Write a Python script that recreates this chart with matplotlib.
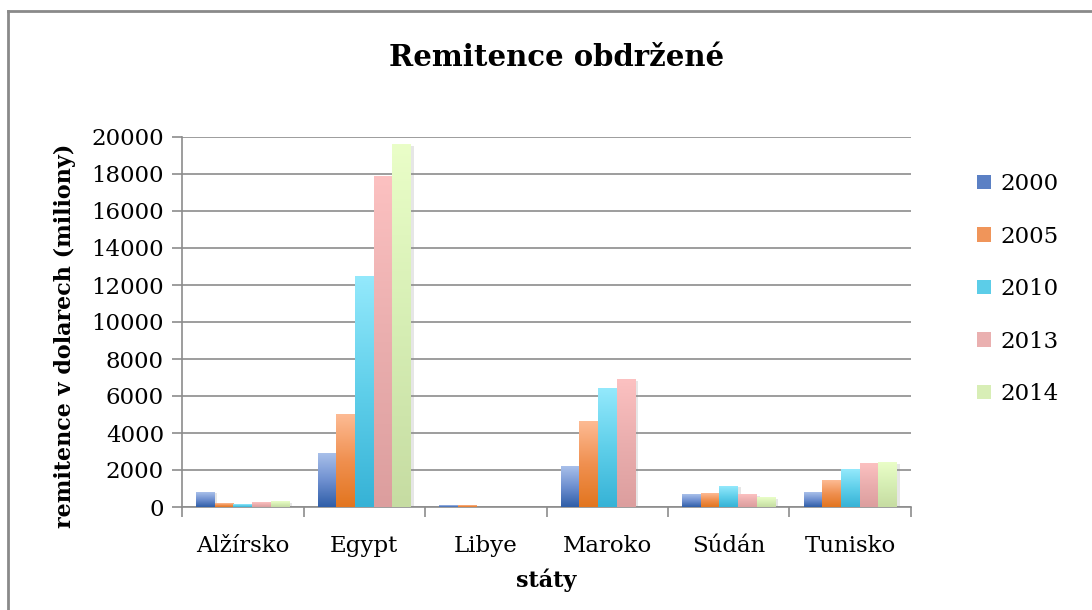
#!/usr/bin/env python3
"""Remitence obdržené – grouped bar chart with Excel-like gradient bars."""

import numpy as np
import matplotlib
matplotlib.use("Agg")
import matplotlib.pyplot as plt
from matplotlib.colors import LinearSegmentedColormap
from matplotlib.patches import Patch
from matplotlib.lines import Line2D
import matplotlib.patheffects as pe

# -----------------------------
# Data (millions of USD)
# -----------------------------
countries = ["Alžírsko", "Egypt", "Libye", "Maroko", "Súdán", "Tunisko"]
years = ["2000", "2005", "2010", "2013", "2014"]

rem_2000 = [810, 2880, 80, 2180, 650, 810]
rem_2005 = [170, 5000, 60, 4600, 720, 1420]
rem_2010 = [150, 12450, 0, 6430, 1135, 2040]
rem_2013 = [250, 17850, 0, 6900, 650, 2340]
rem_2014 = [300, 19580, 0, 0, 500, 2400]

y_ticks = [0, 2000, 4000, 6000, 8000, 10000, 12000, 14000, 16000, 18000, 20000]

# gradient colours per series: (top, middle, bottom)
GRADIENTS = [
    ("#a9c0ea", "#6f90d0", "#2f5ea8"),
    ("#fdbb94", "#f09050", "#e2751f"),
    ("#94e9fc", "#5fcfea", "#36b2d6"),
    ("#fcc1c1", "#eaaeae", "#dc9e9e"),
    ("#eafec8", "#d6eeb4", "#c6dca2"),
]
LEGEND_COLORS = ["#5b80c4", "#f0955a", "#5ccde8", "#eab0b0", "#d8eeb6"]

FONT = "DejaVu Serif"
plt.rcParams["font.family"] = FONT


def draw_gradient_bar(ax, patch, colors):
    """Paint a vertical gradient inside a bar patch."""
    top, mid, bottom = colors
    x0, y0 = patch.get_x(), patch.get_y()
    w, h = patch.get_width(), patch.get_height()
    if h <= 0:
        return
    cmap = LinearSegmentedColormap.from_list("g", [bottom, mid, top])
    grad = np.linspace(0, 1, 256).reshape(-1, 1)
    ax.imshow(grad, cmap=cmap, extent=(x0, x0 + w, y0, y0 + h),
              origin="lower", aspect="auto", zorder=3, interpolation="bilinear")


def main() -> None:
    fig = plt.figure(figsize=(10.92, 6.10), dpi=100)
    W, H = 1092, 610
    ax = fig.add_axes([182 / W, (H - 507) / H, (911 - 182) / W, (507 - 137) / H])

    series = [rem_2000, rem_2005, rem_2010, rem_2013, rem_2014]
    n = len(series)
    x = np.arange(len(countries))
    group = 5 / 6.5
    bw = group / n

    for i, vals in enumerate(series):
        offs = x - group / 2 + bw * (i + 0.5)
        bars = ax.bar(offs, vals, width=bw, color=GRADIENTS[i][2], zorder=2,
                      linewidth=0)
        for b in bars:
            b.set_path_effects([pe.SimplePatchShadow(offset=(2, -1),
                                                     shadow_rgbFace="#909090",
                                                     alpha=0.22),
                                pe.Normal()])
            draw_gradient_bar(ax, b, GRADIENTS[i])

    ax.set_xlim(-0.5, len(countries) - 0.5)
    ax.set_ylim(0, 20000)
    ax.set_yticks(y_ticks)
    ax.set_yticklabels([str(v) for v in y_ticks], fontsize=16.5)
    ax.yaxis.grid(True, color="#8c8c8c", linewidth=1.2, zorder=0)
    ax.set_axisbelow(True)

    # category boundary ticks, labels at centres
    ax.set_xticks(np.arange(len(countries) + 1) - 0.5)
    ax.set_xticklabels([])
    ax.set_xticks(x, minor=True)
    ax.set_xticklabels(countries, minor=True, fontsize=16.5)
    ax.tick_params(axis="x", which="minor", length=0, pad=20)
    ax.tick_params(axis="x", which="major", length=7, width=1.2, color="#8c8c8c")
    ax.tick_params(axis="y", length=7, width=1.2, color="#8c8c8c", pad=6)

    for side in ["top", "right"]:
        ax.spines[side].set_visible(False)
    for side in ["left", "bottom"]:
        ax.spines[side].set_color("#8c8c8c")
        ax.spines[side].set_linewidth(1.2)

    fig.text(557 / W, 1 - 57 / H, "Remitence obdržené", ha="center", va="center",
             fontsize=21, fontweight="bold")
    fig.text(546 / W, 1 - 580 / H, "státy", ha="center", va="center",
             fontsize=16, fontweight="bold")
    fig.text(65 / W, 1 - 336 / H, "remitence v dolarech (miliony)", ha="center",
             va="center", rotation=90, fontsize=16, fontweight="bold")

    handles = [Patch(facecolor=c, edgecolor="none") for c in LEGEND_COLORS]
    fig.legend(handles, years, loc="upper left", bbox_to_anchor=(968 / W, 1 - 164 / H),
               frameon=False, fontsize=16.5, handlelength=0.6, handleheight=0.6,
               handletextpad=0.4, labelspacing=1.33, borderaxespad=0)

    # chart area border (top and left edges visible)
    fig.add_artist(Line2D([8 / W, 8 / W], [0, 1 - 11 / H], transform=fig.transFigure,
                          color="#8a8a8a", linewidth=2))
    fig.add_artist(Line2D([8 / W, 1], [1 - 11 / H, 1 - 11 / H], transform=fig.transFigure,
                          color="#8a8a8a", linewidth=2))

    fig.savefig("out.png", dpi=100)
    plt.close(fig)


if __name__ == "__main__":
    main()
